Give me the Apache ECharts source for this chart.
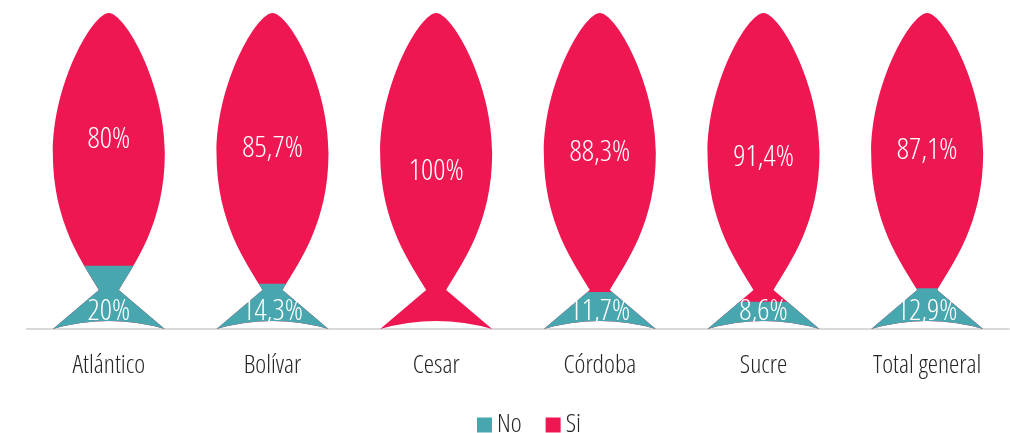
<!DOCTYPE html>
<html>
<head>
<meta charset="utf-8">
<style>
  html, body { margin: 0; padding: 0; background: #fff; }
  #chart { width: 1010px; height: 433px; }
</style>
<script src="https://cdn.jsdelivr.net/npm/echarts@6/dist/echarts.min.js"></script>
</head>
<body>
<div id="chart"></div>
<script>
// data
var categories = ['Atlántico', 'Bolívar', 'Cesar', 'Córdoba', 'Sucre', 'Total general'];
var noValues = [20, 14.3, 0, 11.7, 8.6, 12.9];
var siValues = [80, 85.7, 100, 88.3, 91.4, 87.1];

var RED = '#EE1752';
var TEAL = '#48A6AE';
// thin condensed face, close to the original's
var FONT = "'Open Sans'";
var WEIGHT = '300 condensed';

// fish outline, 112 x 316
var fish = 'path://M56,0 C40,0 0,70 0,140 C0,210 30,250 46,277 L0,316 Q56,300 112,316 L66,277 C82,250 112,210 112,140 C112,70 72,0 56,0 Z';

var topValues = noValues.map(function (v, i) { return v + siValues[i]; });

function pct(p) {
  if (!p.value) return '';
  return String(p.value).replace('.', ',') + '%';
}

var chart = echarts.init(document.getElementById('chart'));
var option = {
  animation: false,
  grid: { left: 27, right: 1, top: 13, bottom: 104 },
  legend: {
    data: ['No', 'Si'],
    bottom: -10,
    left: 472,
    icon: 'rect',
    itemWidth: 15,
    itemHeight: 15,
    itemGap: 24,
    textStyle: { fontFamily: FONT, fontWeight: WEIGHT, fontSize: 26, color: '#262626' }
  },
  xAxis: {
    type: 'category',
    data: categories,
    axisLine: { lineStyle: { color: '#d9d9d9', width: 2 } },
    axisTick: { show: false },
    axisLabel: { margin: 24, fontFamily: FONT, fontWeight: WEIGHT, fontSize: 26, color: '#262626' }
  },
  yAxis: { type: 'value', min: 0, max: 100, show: false },
  series: [
    {
      name: 'Si',
      type: 'pictorialBar',
      symbol: fish,
      symbolClip: true,
      symbolBoundingData: 100,
      symbolSize: [112, '100%'],
      symbolPosition: 'start',
      itemStyle: { color: RED },
      data: topValues,
      z: 2
    },
    {
      name: 'No',
      type: 'pictorialBar',
      symbol: fish,
      symbolClip: true,
      symbolBoundingData: 100,
      symbolSize: [112, '100%'],
      symbolPosition: 'start',
      itemStyle: { color: TEAL },
      data: noValues,
      z: 3
    },
    // invisible stacked bars only used to place the labels
    {
      name: 'noLabel',
      type: 'bar',
      stack: 'lbl',
      silent: true,
      barWidth: 112,
      itemStyle: { color: 'transparent' },
      label: {
        show: true, position: 'insideBottom', distance: 3,
        color: '#fff', fontFamily: FONT, fontWeight: WEIGHT, fontSize: 30, formatter: pct
      },
      data: noValues,
      z: 5
    },
    {
      name: 'siLabel',
      type: 'bar',
      stack: 'lbl',
      silent: true,
      barWidth: 112,
      itemStyle: { color: 'transparent' },
      label: {
        show: true, position: 'inside',
        color: '#fff', fontFamily: FONT, fontWeight: WEIGHT, fontSize: 30, formatter: pct
      },
      data: siValues,
      z: 5
    }
  ]
};
chart.setOption(option);
</script>
</body>
</html>
